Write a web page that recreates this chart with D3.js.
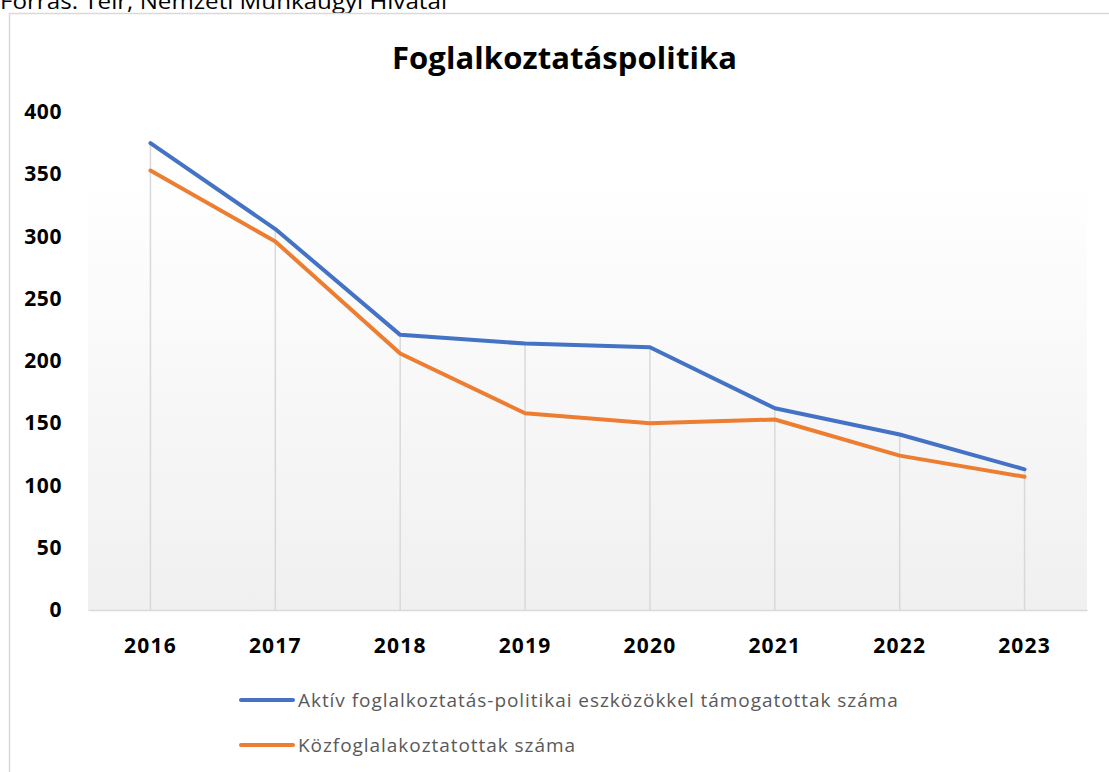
<!DOCTYPE html>
<html>
<head>
<meta charset="utf-8">
<script src="https://cdn.jsdelivr.net/npm/d3@7"></script>
<style>
  body { margin: 0; background: #fff; font-family: "Open Sans", "Noto Sans", sans-serif; }
</style>
</head>
<body>
<div id="chart"></div>
<script>
const years = ["2016", "2017", "2018", "2019", "2020", "2021", "2022", "2023"];
const aktiv = [375, 306, 221, 214, 211, 162, 141, 113];
const kozfog = [353, 296, 206, 158, 150, 153, 124, 107];
const seriesNames = ["Aktív foglalkoztatás-politikai eszközökkel támogatottak száma", "Közfoglalakoztatottak száma"];
const seriesColors = ["#4472c4", "#ed7d31"];
const yTicks = [0, 50, 100, 150, 200, 250, 300, 350, 400];

const svgWidth = 1109, svgHeight = 772;
const margin = { top: 112, right: 22, bottom: 162, left: 88 };
const width = svgWidth - margin.left - margin.right;
const height = svgHeight - margin.top - margin.bottom;

const svg = d3.select("#chart").append("svg")
  .attr("width", svgWidth)
  .attr("height", svgHeight);

// forrás szöveg (félig levágva, mint az eredetin)
svg.append("text")
  .attr("x", 0).attr("y", 9)
  .attr("font-size", 21).attr("fill", "#000")
  .attr("textLength", 447).attr("lengthAdjust", "spacingAndGlyphs")
  .text("Forrás: Teir, Nemzeti Munkaügyi Hivatal");

// keret
svg.append("rect")
  .attr("x", 9.5).attr("y", 13.5)
  .attr("width", 1110).attr("height", 770)
  .attr("fill", "none").attr("stroke", "#d9d9d9").attr("stroke-width", 1.5);

const defs = svg.append("defs");
const grad = defs.append("linearGradient").attr("id", "bg").attr("x1", 0).attr("y1", 0).attr("x2", 0).attr("y2", 1);
grad.append("stop").attr("offset", "0%").attr("stop-color", "#ffffff");
grad.append("stop").attr("offset", "100%").attr("stop-color", "#f0f0f0");

svg.append("text")
  .attr("x", 564.5).attr("y", 69)
  .attr("text-anchor", "middle")
  .attr("font-size", 31).attr("font-weight", "bold").attr("fill", "#000")
  .attr("textLength", 345).attr("lengthAdjust", "spacing")
  .text("Foglalkoztatáspolitika");

const g = svg.append("g").attr("transform", "translate(" + margin.left + "," + margin.top + ")");

const x = d3.scaleBand().domain(years).range([0, width]);
const y = d3.scaleLinear().domain([0, 400]).range([height, 0]);
const cx = d => x(d) + x.bandwidth() / 2;

// háttér gradiens
g.append("rect")
  .attr("x", 0).attr("y", y(350))
  .attr("width", width).attr("height", height - y(350))
  .attr("fill", "url(#bg)");

// függőleges segédvonalak
g.selectAll(".drop")
  .data(years)
  .enter().append("line")
  .attr("class", "drop")
  .attr("x1", d => cx(d)).attr("x2", d => cx(d))
  .attr("y1", (d, i) => y(Math.max(aktiv[i], kozfog[i])))
  .attr("y2", height)
  .attr("stroke", "#d9d9d9").attr("stroke-width", 1.5);

// tengelyek
const xAxis = g.append("g")
  .attr("transform", "translate(0," + height + ")")
  .call(d3.axisBottom(x).tickSize(0).tickPadding(28));
xAxis.select(".domain").attr("stroke", "#d9d9d9").attr("stroke-width", 1.5);
xAxis.selectAll("text").attr("font-size", 21).attr("font-weight", "bold").attr("fill", "#000")
  .attr("font-family", "'Open Sans', sans-serif").attr("letter-spacing", 1.2);

const yAxis = g.append("g")
  .call(d3.axisLeft(y).tickValues(yTicks).tickSize(0).tickPadding(26));
yAxis.select(".domain").remove();
yAxis.selectAll("text").attr("font-size", 21).attr("font-weight", "bold").attr("fill", "#000")
  .attr("font-family", "'Open Sans', sans-serif").attr("letter-spacing", 0.6);

// vonalak
const line = d3.line().x((d, i) => cx(years[i])).y(d => y(d));
[aktiv, kozfog].forEach((s, k) => {
  g.append("path")
    .datum(s)
    .attr("d", line)
    .attr("fill", "none")
    .attr("stroke", seriesColors[k])
    .attr("stroke-width", 4)
    .attr("stroke-linejoin", "round")
    .attr("stroke-linecap", "round");
});

// jelmagyarázat
const legend = svg.append("g");
seriesNames.forEach((n, i) => {
  const ly = 700 + i * 45;
  legend.append("line")
    .attr("x1", 241).attr("x2", 293).attr("y1", ly).attr("y2", ly)
    .attr("stroke", seriesColors[i]).attr("stroke-width", 4).attr("stroke-linecap", "round");
  legend.append("text")
    .attr("x", 298).attr("y", ly + 7)
    .attr("font-size", 19).attr("fill", "#595959")
    .attr("letter-spacing", 0.95)
    .text(n);
});
</script>
</body>
</html>
